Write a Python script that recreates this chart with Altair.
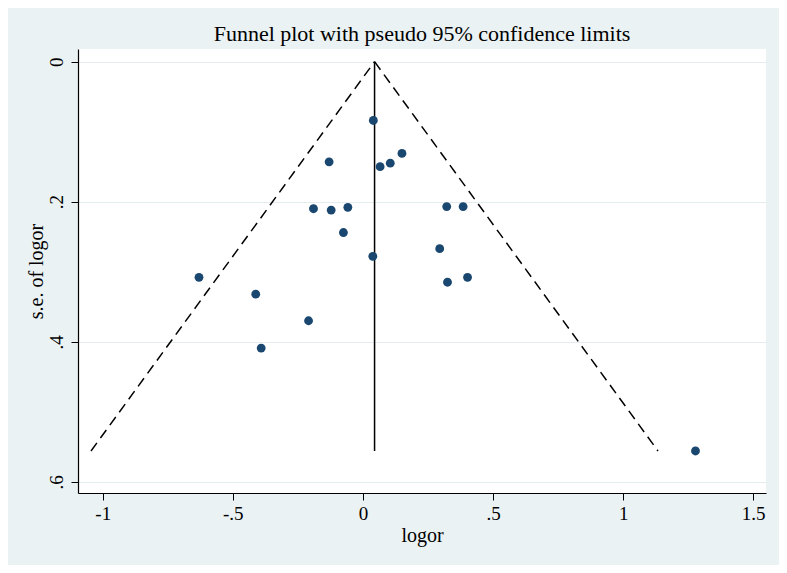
import altair as alt
import pandas as pd

# Study estimates
logor = [0.040, -0.130, 0.066, 0.105, 0.150, -0.190, -0.122, -0.058, 0.322, 0.385,
         -0.075, 0.295, 0.038, -0.630, 0.402, 0.325, -0.412, -0.209, -0.391, 1.278]
se_logor = [0.084, 0.143, 0.150, 0.145, 0.131, 0.210, 0.212, 0.208, 0.207, 0.207,
            0.244, 0.267, 0.278, 0.308, 0.308, 0.315, 0.332, 0.370, 0.409, 0.556]

# Funnel (pseudo 95% limits)
pooled = 0.0447
se_max = 0.556
left_end = -1.045
right_end = 1.134

x_ticks = [-1, -0.5, 0, 0.5, 1, 1.5]
y_ticks = [0, 0.2, 0.4, 0.6]

pts = pd.DataFrame({"logor": logor, "se": se_logor})
funnel = pd.DataFrame({
    "logor": [pooled, left_end, pooled, right_end],
    "se": [0, se_max, 0, se_max],
    "side": ["left", "left", "right", "right"],
})
center = pd.DataFrame({"logor": [pooled], "se": [0], "se2": [se_max]})

serif = "Liberation Serif"
xscale = alt.Scale(domain=[-1.095, 1.549], nice=False, zero=False)
yscale = alt.Scale(domain=[-0.0181, 0.616], nice=False, zero=False, reverse=True)

xaxis = alt.Axis(values=x_ticks, title="logor", grid=False,
                 labelExpr="replace(toString(datum.value), '0.', '.')",
                 labelFont=serif, labelFontSize=19, labelColor="black",
                 labelPadding=4, labelBaseline="top",
                 titleFont=serif, titleFontSize=20, titleFontWeight="normal",
                 titleColor="black", titleBaseline="alphabetic",
                 titleX=344, titleY=48, titleAnchor="middle", titleAlign="center",
                 domainColor="black", domainWidth=1.2, tickColor="black",
                 tickSize=7, tickWidth=1)
yaxis = alt.Axis(values=y_ticks, title="s.e. of logor", grid=True,
                 gridColor="#E3ECEE", gridWidth=1.2,
                 labelExpr="replace(toString(datum.value), '0.', '.')",
                 labelFont=serif, labelFontSize=19, labelColor="black",
                 labelAngle=270, labelAlign="center", labelBaseline="bottom",
                 labelPadding=5,
                 titleFont=serif, titleFontSize=20, titleFontWeight="normal",
                 titleColor="black", titleAngle=270, titleAlign="center",
                 titleBaseline="alphabetic", titleX=-36, titleY=222,
                 domainColor="black", domainWidth=1.2, tickColor="black",
                 tickSize=7, tickWidth=1)

points = alt.Chart(pts).mark_circle(size=78, opacity=1, color="#1A476F").encode(
    x=alt.X("logor:Q", scale=xscale, axis=xaxis),
    y=alt.Y("se:Q", scale=yscale, axis=yaxis),
)

lines = alt.Chart(funnel).mark_line(color="black", strokeDash=[10, 6], strokeWidth=1.5).encode(
    x=alt.X("logor:Q", scale=xscale),
    y=alt.Y("se:Q", scale=yscale),
    detail="side:N",
)

vline = alt.Chart(center).mark_rule(color="black", strokeWidth=1.5).encode(
    x=alt.X("logor:Q", scale=xscale),
    y=alt.Y("se:Q", scale=yscale),
    y2="se2:Q",
)

chart = alt.layer(lines, vline, points).properties(
    width=688, height=444,
    title=alt.Title("Funnel plot with pseudo 95% confidence limits",
                    font=serif, fontSize=22, fontWeight="normal", color="black",
                    anchor="middle", baseline="alphabetic", offset=-14, frame="group"),
    autosize=alt.AutoSizeParams(type="none"),
    padding={"left": 70, "top": 41, "right": 13, "bottom": 72},
    background="#EAF2F3",
).configure_view(fill="white", stroke=None)

chart.save("out.html", embed_options={"renderer": "svg", "actions": False})
